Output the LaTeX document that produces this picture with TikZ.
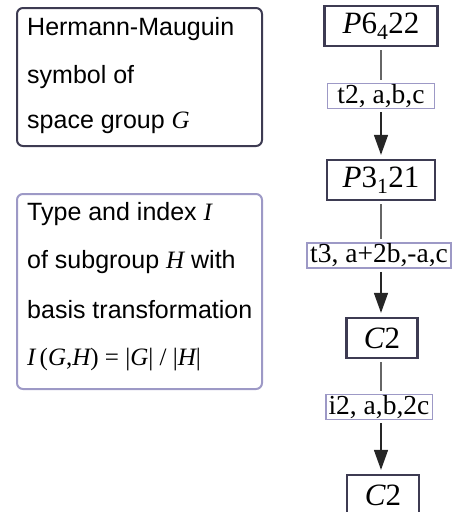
\documentclass[tikz,border=0pt]{standalone}
\usepackage{fontspec}
\setmainfont{Liberation Serif}
\newfontfamily\sansf{Liberation Sans}
\usetikzlibrary{arrows.meta}
\definecolor{darkb}{HTML}{3D3B52}
\definecolor{lavb}{HTML}{9D99C6}
\definecolor{linec}{HTML}{666666}
\newcommand{\mi}[1]{{\rmfamily\itshape #1}}
\begin{document}
\begin{tikzpicture}[x=1pt,y=-1pt,
  leftbox/.style={draw=#1, line width=2pt, rounded corners=6pt, inner sep=0pt},
  ltext/.style={anchor=base west, inner sep=0pt, font=\sansf\fontsize{25}{30}\selectfont},
  grp/.style={draw=darkb, line width=2.2pt, inner sep=0pt, minimum height=40pt, font=\fontsize{31}{36}\selectfont},
  lbl/.style={draw=lavb, line width=1.8pt, inner xsep=3pt, inner ysep=0pt, minimum height=25pt, font=\fontsize{27.5}{30}\selectfont},
  conn/.style={draw=linec, line width=1.2pt, shorten <=3pt, shorten >=3pt},
  arr/.style={draw=black!85, line width=1.3pt, shorten <=3pt, shorten >=4pt, -{Triangle[length=20pt,width=14pt]}}
]
\useasboundingbox (0,0) rectangle (456,512);
% left boxes
\node[leftbox=darkb, minimum width=245pt, minimum height=138pt] (b1) at (139.5,77) {};
\node[ltext] (t11) at (27,35) {Hermann-Mauguin};
\node[ltext] (t12) at (27,83) {symbol of};
\node[ltext] (t13) at (27,128) {space group \mi{G}};
\node[leftbox=lavb, minimum width=245pt, minimum height=195pt] (b2) at (139.5,291.5) {};
\node[ltext] (t21) at (27,220) {Type and index \mi{I}};
\node[ltext] (t22) at (27,268) {of subgroup \mi{H} with};
\node[ltext] (t23) at (27,318) {basis transformation};
\node[ltext] (t24) at (27,365) {\rmfamily\mi{I}\,(\mi{G},\mi{H}) = |\mi{G}| / |\mi{H}|};
% right column
\node[grp, minimum width=113pt] (g1) at (381,26) {\mi{P}6\textsubscript{4}22};
\node[lbl, minimum width=107pt] (l1) at (381,96) {t2, a,b,c};
\node[grp, minimum width=108pt] (g2) at (381,180) {\mi{P}3\textsubscript{1}21};
\node[lbl, minimum width=140pt] (l2) at (379,255.5) {t3, a+2b,-a,c};
\node[grp, minimum width=71pt] (g3) at (382,338) {\mi{C}2};
\node[lbl, minimum width=103pt] (l3) at (379,407) {i2, a,b,2c};
\node[grp, minimum width=72pt, minimum height=40pt] (g4) at (383,495) {\mi{C}2};
% connectors
\draw[conn] (g1.south -| 381,0) -- (l1.north -| 381,0);
\draw[arr] (l1.south -| 381,0) -- (g2.north -| 381,0);
\draw[conn] (g2.south -| 381,0) -- (l2.north -| 381,0);
\draw[arr] (l2.south -| 381,0) -- (g3.north -| 381,0);
\draw[conn] (g3.south -| 381,0) -- (l3.north -| 381,0);
\draw[arr] (l3.south -| 381,0) -- (g4.north -| 381,0);
\end{tikzpicture}
\end{document}
